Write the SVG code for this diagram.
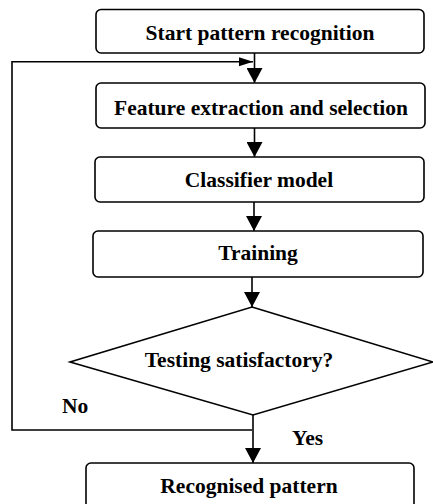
<svg xmlns="http://www.w3.org/2000/svg" width="433" height="504" viewBox="0 0 433 504">
<style>
.box{fill:#fff;stroke:#000;stroke-width:1.6}
.ln{fill:none;stroke:#000;stroke-width:1.6}
.t{font-family:"Liberation Serif","Times New Roman",serif;font-weight:bold;font-size:21.5px;fill:#000;text-anchor:middle}
.l{font-family:"Liberation Serif","Times New Roman",serif;font-weight:bold;font-size:21.5px;fill:#000}
</style>
<defs>
<marker id="arr" markerUnits="userSpaceOnUse" markerWidth="16" markerHeight="16" viewBox="0 0 16 16" refX="15" refY="8" orient="auto">
<path d="M0,0 L15,8 L0,16 Z" fill="#000"/>
</marker>
<marker id="arrs" markerUnits="userSpaceOnUse" markerWidth="15" markerHeight="10" viewBox="0 0 15 10" refX="14" refY="5" orient="auto">
<path d="M0,0.5 L14,5 L0,9.5 Z" fill="#000"/>
</marker>
</defs>
<g id="connectors">
<line class="ln" x1="254.5" y1="53" x2="254.5" y2="83" marker-end="url(#arr)"/>
<line class="ln" x1="254.5" y1="128" x2="254.5" y2="157" marker-end="url(#arr)"/>
<line class="ln" x1="254" y1="202" x2="254" y2="231" marker-end="url(#arr)"/>
<line class="ln" x1="252" y1="277" x2="252" y2="307" marker-end="url(#arr)"/>
<line class="ln" x1="253" y1="415" x2="253" y2="463" marker-end="url(#arr)"/>
<polyline class="ln" points="252,430 12,430 12,61.7 253,61.7" marker-end="url(#arrs)"/>
<text class="l" x="62" y="413">No</text>
<text class="l" x="292" y="445">Yes</text>
</g>
<g id="start">
<rect class="box" x="96" y="9.5" width="328" height="43.5" rx="5"/>
<text class="t" x="260" y="40">Start pattern recognition</text>
</g>
<g id="feature">
<rect class="box" x="96" y="83" width="329" height="45" rx="5"/>
<text class="t" x="261" y="115">Feature extraction and selection</text>
</g>
<g id="classifier">
<rect class="box" x="95" y="157" width="329" height="45" rx="5"/>
<text class="t" x="259" y="187">Classifier model</text>
</g>
<g id="training">
<rect class="box" x="93" y="231" width="330" height="46" rx="5"/>
<text class="t" x="258" y="260">Training</text>
</g>
<g id="testing">
<polygon class="box" points="252,307 433,362 253,415 70,362"/>
<text class="t" x="239" y="367">Testing satisfactory?</text>
</g>
<g id="recognised">
<rect class="box" x="86" y="463" width="328" height="45" rx="5"/>
<text class="t" x="249" y="493">Recognised pattern</text>
</g>
</svg>
